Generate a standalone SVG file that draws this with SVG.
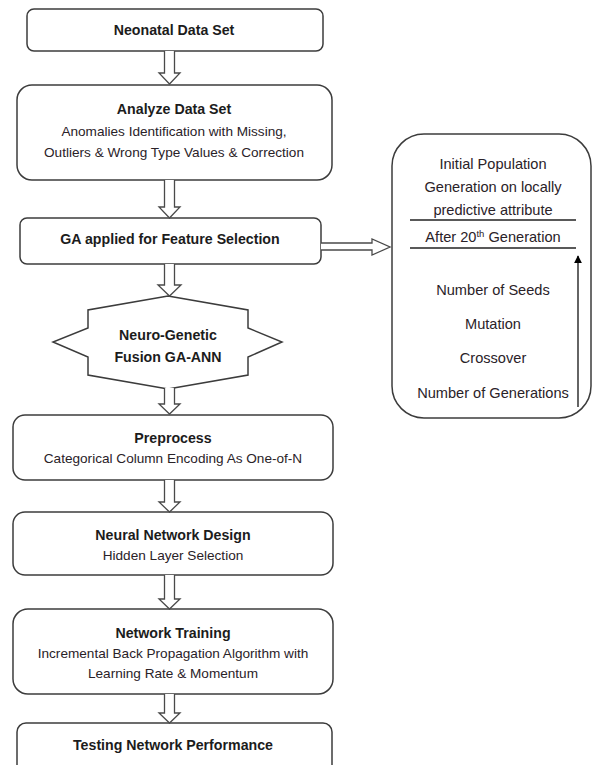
<svg xmlns="http://www.w3.org/2000/svg" width="592" height="765" viewBox="0 0 592 765">
<style>
.box{fill:#fff;stroke:#3c3c3c;stroke-width:1.5}
.arr{fill:#fff;stroke:#4a4a4a;stroke-width:1.3;stroke-linejoin:miter}
text{font-family:"Liberation Sans",Arial,sans-serif;text-anchor:middle;fill:#2a2228}
.b{font-weight:bold;font-size:14.2px;fill:#1c1c1c}
.r{font-size:13.6px}
.s{font-size:14.6px}
</style>
<defs>
<marker id="tri" viewBox="0 0 10 10" refX="9" refY="5" markerWidth="8" markerHeight="8" markerUnits="userSpaceOnUse" orient="auto">
<path d="M0,0 L10,5 L0,10 Z" fill="#000"/>
</marker>
</defs>
<rect width="592" height="765" fill="#fff"/>
<g id="n1"><rect class="box" x="27" y="9" width="296" height="42" rx="7"/><text class="b" x="174" y="35">Neonatal Data Set</text></g>
<g id="n2"><rect class="box" x="17" y="85" width="315" height="95" rx="15"/><text class="b" x="174" y="114">Analyze Data Set</text><text class="r" x="174" y="136">Anomalies Identification with Missing,</text><text class="r" x="174" y="157">Outliers &amp; Wrong Type Values &amp; Correction</text></g>
<g id="n3"><rect class="box" x="20" y="218" width="301" height="46" rx="7"/><text class="b" x="170" y="244">GA applied for Feature Selection</text></g>
<g id="n4"><path class="box" d="M168,296 L248,310 L248,328 L282,342 L248,357 L248,375 L168,389 L88,375 L88,357 L53,342 L88,328 L88,310 Z"/><text class="b" x="168" y="340">Neuro-Genetic</text><text class="b" x="168" y="362">Fusion GA-ANN</text></g>
<g id="n5"><rect class="box" x="13" y="415" width="320" height="65" rx="12"/><text class="b" x="173" y="443">Preprocess</text><text class="r" x="173" y="463">Categorical Column Encoding As One-of-N</text></g>
<g id="n6"><rect class="box" x="13" y="512" width="320" height="63" rx="12"/><text class="b" x="173" y="540">Neural Network Design</text><text class="r" x="173" y="560">Hidden Layer Selection</text></g>
<g id="n7"><rect class="box" x="13" y="609" width="320" height="85" rx="15"/><text class="b" x="173" y="638">Network Training</text><text class="r" x="173" y="658">Incremental Back Propagation Algorithm with</text><text class="r" x="173" y="678">Learning Rate &amp; Momentum</text></g>
<g id="n8"><rect class="box" x="17" y="723" width="315" height="60" rx="9"/><text class="b" x="173" y="750">Testing Network Performance</text></g>
<g id="n9"><rect class="box" x="392" y="134" width="199" height="284" rx="32"/>
<text class="s" x="493" y="169">Initial Population</text>
<text class="s" x="493" y="192">Generation on locally</text>
<text class="s" x="493" y="215">predictive attribute</text>
<line x1="410" y1="220" x2="576" y2="220" stroke="#222" stroke-width="1.5"/>
<text class="s" x="493" y="242">After 20<tspan font-size="9.5" dy="-5">th</tspan><tspan dy="5"> Generation</tspan></text>
<line x1="410" y1="248" x2="576" y2="248" stroke="#222" stroke-width="1.5"/>
<text class="s" x="493" y="295">Number of Seeds</text>
<text class="s" x="493" y="329">Mutation</text>
<text class="s" x="493" y="363">Crossover</text>
<text class="s" x="493" y="398">Number of Generations</text>
<line x1="578" y1="407" x2="578" y2="256" stroke="#111" stroke-width="1.3" marker-end="url(#tri)"/>
</g>
<g id="connectors">
<path class="arr" d="M164.5,51 L164.5,73 L159,73 L169.5,84 L180,73 L174.5,73 L174.5,51"/>
<path class="arr" d="M164.5,180 L164.5,207 L159,207 L169.5,218 L180,207 L174.5,207 L174.5,180"/>
<path class="arr" d="M164.5,264 L164.5,285 L158,285 L169.5,296 L181,285 L174.5,285 L174.5,264"/>
<path class="arr" d="M164.5,388 L164.5,404 L159,404 L169.5,414 L180,404 L174.5,404 L174.5,388"/>
<path class="arr" d="M164.5,480 L164.5,502 L159,502 L169.5,512 L180,502 L174.5,502 L174.5,480"/>
<path class="arr" d="M164.5,575 L164.5,599 L159,599 L169.5,609 L180,599 L174.5,599 L174.5,575"/>
<path class="arr" d="M164.5,694 L164.5,713 L159,713 L169.5,723 L180,713 L174.5,713 L174.5,694"/>
<path class="arr" d="M321,243 L372,243 L372,239 L390,247 L372,255 L372,250 L321,250"/>
</g>
</svg>
